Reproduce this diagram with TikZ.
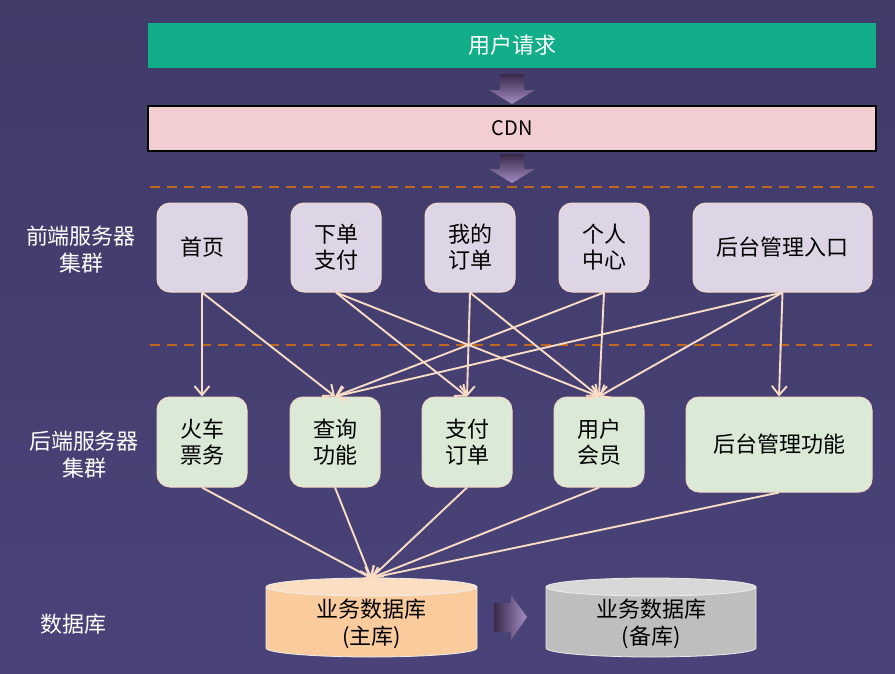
\documentclass[tikz,border=0pt]{standalone}
\usepackage{fontspec}
\setmainfont{Noto Sans CJK SC}
\usetikzlibrary{arrows.meta}
\definecolor{bgtop}{HTML}{403B69}
\definecolor{bgbot}{HTML}{4A4379}
\definecolor{reqc}{HTML}{12AE8A}
\definecolor{cdnc}{HTML}{F2CED3}
\definecolor{frontc}{HTML}{DDD5E6}
\definecolor{backc}{HTML}{DAEAD7}
\definecolor{nodeline}{HTML}{F3D9C6}
\definecolor{edgec}{HTML}{F8DCC5}
\definecolor{dashc}{HTML}{C2671F}
\definecolor{arrdark}{HTML}{3A2848}
\definecolor{arrlight}{HTML}{A48EC4}
\definecolor{mbody}{HTML}{FACB9C}
\definecolor{mtop}{HTML}{FCDFC2}
\definecolor{sbody}{HTML}{BEBEBE}
\definecolor{stop}{HTML}{D8D8D8}
\tikzset{
  txt/.style={font=\fontsize{22}{26}\selectfont, align=center, text=black, inner sep=0pt},
  bar/.style={txt, minimum width=728pt, minimum height=45pt},
  front/.style={txt, fill=frontc, draw=nodeline, line width=1pt, rounded corners=13pt, minimum width=90pt, minimum height=89pt},
  back/.style={txt, fill=backc, draw=nodeline, line width=1pt, rounded corners=13pt, minimum width=90pt, minimum height=90pt},
  side/.style={font=\fontsize{22}{27}\selectfont, align=center, text=white, inner sep=0pt},
  edge/.style={draw=edgec, line width=1.9pt, -{Straight Barb[length=9pt,width=15pt]}},
  dashline/.style={draw=dashc, line width=2.5pt, dash pattern=on 10pt off 7pt},
  blockarrow/.style={draw=none},
  cylline/.style={draw=white!85!gray, line width=0.8pt}
}
\begin{document}
\begin{tikzpicture}[x=1pt,y=-1pt]
\shade[top color=bgtop, bottom color=bgbot] (0,0) rectangle (895,673);
\useasboundingbox (0,0) rectangle (895,673);

% top bars
\node[bar, fill=reqc, text=white] (req) at (512,45.5) {用户请求};
\node[bar, fill=cdnc, draw=black, line width=2pt, font=\fontsize{20}{24}\selectfont] (cdn) at (512,128.5) {CDN};

% block arrows
\shade[top color=arrdark, bottom color=arrlight, blockarrow]
  (500,74) -- (524,74) -- (524,90) -- (535,90) -- (512,104) -- (489,90) -- (500,90) -- cycle;
\shade[top color=arrdark, bottom color=arrlight, blockarrow]
  (500,154) -- (524,154) -- (524,169) -- (535,169) -- (512,183) -- (489,169) -- (500,169) -- cycle;

% dashed separators
\draw[dashline] (150,187) -- (875,187);
\draw[dashline] (150,345) -- (872,345);

% side labels
\node[side] (lfront) at (81,250) {前端服务器\\集群};
\node[side] (lback) at (84,455) {后端服务器\\集群};
\node[side] (ldb) at (73,624) {数据库};

% front servers
\node[front] (f1) at (202,247.5) {首页};
\node[front] (f2) at (336,247.5) {下单\\支付};
\node[front] (f3) at (470,247.5) {我的\\订单};
\node[front] (f4) at (604,247.5) {个人\\中心};
\node[front, minimum width=179pt] (f5) at (782.5,247.5) {后台管理入口};

% back servers
\node[back] (b1) at (202,442) {火车\\票务};
\node[back] (b2) at (335,442) {查询\\功能};
\node[back] (b3) at (467,442) {支付\\订单};
\node[back] (b4) at (599,442) {用户\\会员};
\node[back, minimum width=186pt, minimum height=95pt] (b5) at (779,444.5) {后台管理功能};

% front -> back
\draw[edge] (f1.south) -- (b1.north);
\draw[edge] (f1.south) -- (b2.north);
\draw[edge] (f2.south) -- (b3.north);
\draw[edge] (f2.south) -- (b4.north);
\draw[edge] (f3.south) -- (b3.north);
\draw[edge] (f3.south) -- (b4.north);
\draw[edge] (f4.south) -- (b2.north);
\draw[edge] (f4.south) -- (b4.north);
\draw[edge] (f5.south) -- (b2.north);
\draw[edge] (f5.south) -- (b4.north);
\draw[edge] (f5.south) -- (b5.north);

% databases
\fill[mbody] (266,587) -- (266,648) arc[start angle=180, end angle=0, x radius=105.5, y radius=9] -- (477,587) -- cycle;
\draw[cylline] (266,587) -- (266,648) arc[start angle=180, end angle=0, x radius=105.5, y radius=9] -- (477,587);
\filldraw[fill=mtop, cylline] (371.5,587) ellipse [x radius=105.5, y radius=9];
\node[txt, font=\fontsize{22}{27}\selectfont] (mdb) at (371.5,624) {业务数据库\\(主库)};

\fill[sbody] (546,587) -- (546,648) arc[start angle=180, end angle=0, x radius=105, y radius=9] -- (756,587) -- cycle;
\draw[cylline] (546,587) -- (546,648) arc[start angle=180, end angle=0, x radius=105, y radius=9] -- (756,587);
\filldraw[fill=stop, cylline] (651,587) ellipse [x radius=105, y radius=9];
\node[txt, font=\fontsize{22}{27}\selectfont] (sdb) at (651,624) {业务数据库\\(备库)};

\shade[left color=arrdark, right color=arrlight, blockarrow]
  (494,603) -- (511,603) -- (511,595) -- (527,617) -- (511,640) -- (511,632) -- (494,632) -- cycle;

% back -> master db
\coordinate (dbtop) at (371,578);
\draw[edge] (b1.south) -- (dbtop);
\draw[edge] (b2.south) -- (dbtop);
\draw[edge] (b3.south) -- (dbtop);
\draw[edge] (b4.south) -- (dbtop);
\draw[edge] (b5.south) -- (dbtop);
\end{tikzpicture}
\end{document}
